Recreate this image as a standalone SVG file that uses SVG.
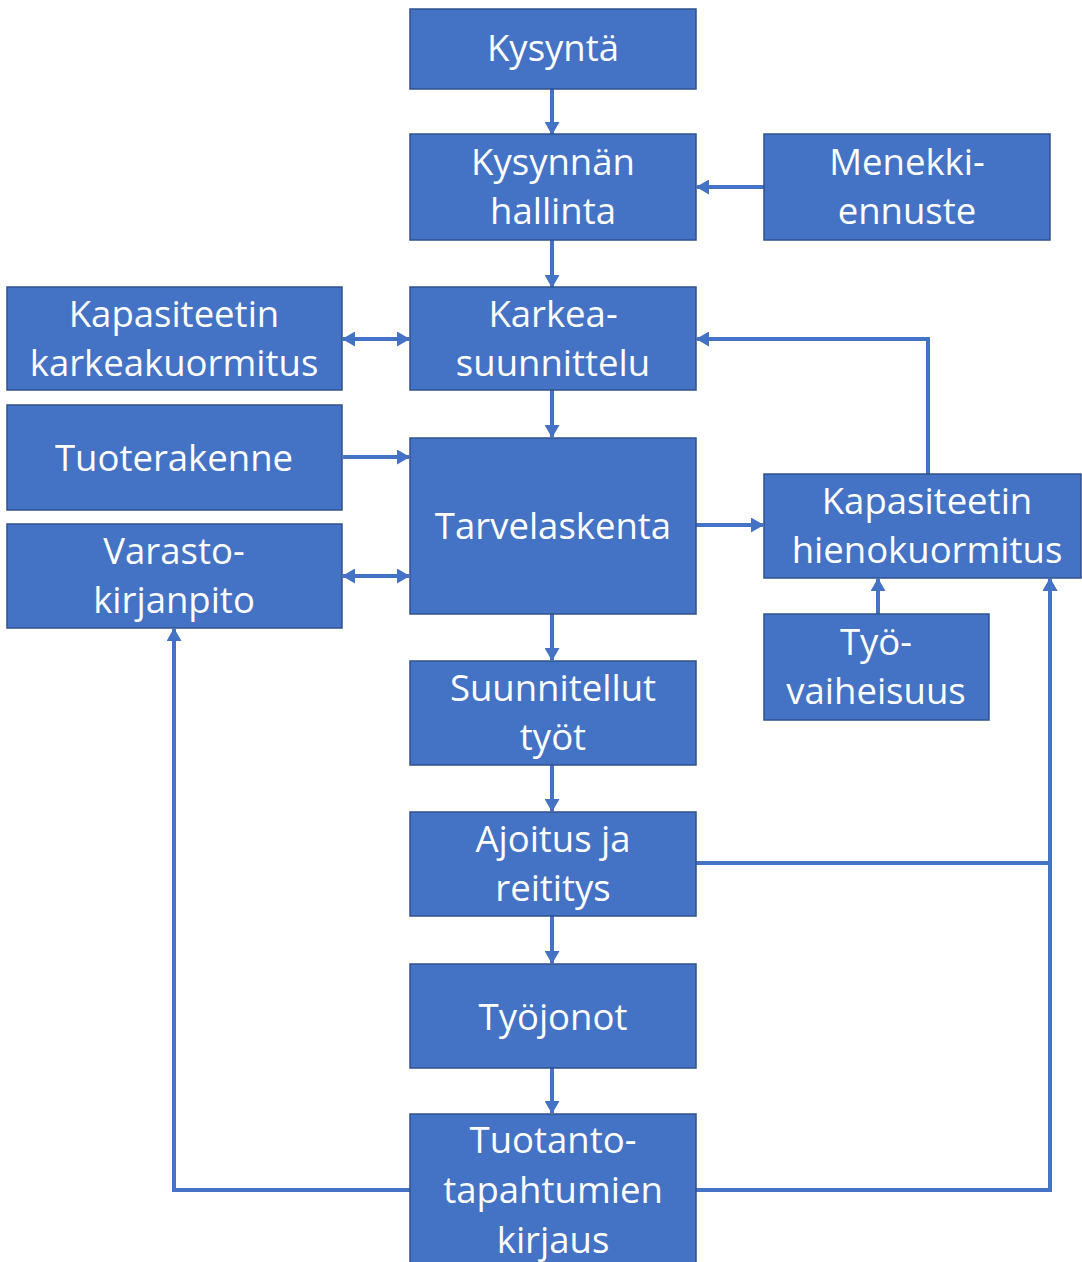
<svg xmlns="http://www.w3.org/2000/svg" width="1082" height="1262" viewBox="0 0 1082 1262">
<defs>
<style>
.box{fill:#4472C4;stroke:#2F528F;stroke-width:1.5}
.t{font-family:"Open Sans","Liberation Sans",sans-serif;font-size:36.5px;fill:#fff;text-anchor:middle}
.c{fill:none;stroke:#4472C4;stroke-width:4;marker-end:url(#ah)}
.d{marker-start:url(#ah)}
</style>
<marker id="ah" markerUnits="userSpaceOnUse" markerWidth="13" markerHeight="15" refX="12" refY="7.5" orient="auto-start-reverse" viewBox="0 0 13 15">
<path d="M0,0 L13,7.5 L0,15 z" fill="#4472C4"/>
</marker>
</defs>
<rect width="1082" height="1262" fill="#fff"/>
<g id="connectors">
<path class="c" d="M552,89 V134"/>
<path class="c" d="M764,187 H697"/>
<path class="c" d="M552,240 V287"/>
<path class="c d" d="M343,339 H409"/>
<path class="c" d="M928,474 V339 H697"/>
<path class="c" d="M552,390 V437"/>
<path class="c" d="M343,457 H409"/>
<path class="c d" d="M343,576 H409"/>
<path class="c" d="M696,525 H763"/>
<path class="c" d="M878,614 V579"/>
<path class="c" d="M552,614 V660"/>
<path class="c" d="M552,765 V811"/>
<path class="c" d="M696,863 H1050 V579"/>
<path class="c" d="M552,916 V963"/>
<path class="c" d="M552,1068 V1113"/>
<path class="c" d="M410,1190 H174 V629"/>
<path class="c" d="M696,1190 H1050 V579"/>
</g>
<g id="kysynta"><rect class="box" x="410" y="9" width="286" height="80"/><text class="t" x="553" y="61">Kysyntä</text></g>
<g id="kysynnan-hallinta"><rect class="box" x="410" y="134" width="286" height="106"/><text class="t" x="553" y="175">Kysynnän</text><text class="t" x="553" y="224">hallinta</text></g>
<g id="menekkiennuste"><rect class="box" x="764" y="134" width="286" height="106"/><text class="t" x="907" y="175">Menekki-</text><text class="t" x="907" y="224">ennuste</text></g>
<g id="karkeasuunnittelu"><rect class="box" x="410" y="287" width="286" height="103"/><text class="t" x="553" y="327">Karkea-</text><text class="t" x="553" y="376">suunnittelu</text></g>
<g id="kapasiteetin-karkeakuormitus"><rect class="box" x="7" y="287" width="335" height="103"/><text class="t" x="174" y="327">Kapasiteetin</text><text class="t" x="174" y="376">karkeakuormitus</text></g>
<g id="tuoterakenne"><rect class="box" x="7" y="405" width="335" height="105"/><text class="t" x="174" y="471">Tuoterakenne</text></g>
<g id="varastokirjanpito"><rect class="box" x="7" y="524" width="335" height="104"/><text class="t" x="174" y="564">Varasto-</text><text class="t" x="174" y="613">kirjanpito</text></g>
<g id="tarvelaskenta"><rect class="box" x="410" y="438" width="286" height="176"/><text class="t" x="553" y="539">Tarvelaskenta</text></g>
<g id="kapasiteetin-hienokuormitus"><rect class="box" x="764" y="474" width="317" height="104"/><text class="t" x="927" y="514">Kapasiteetin</text><text class="t" x="927" y="563">hienokuormitus</text></g>
<g id="tyovaiheisuus"><rect class="box" x="764" y="614" width="225" height="106"/><text class="t" x="876" y="655">Työ-</text><text class="t" x="876" y="704">vaiheisuus</text></g>
<g id="suunnitellut-tyot"><rect class="box" x="410" y="661" width="286" height="104"/><text class="t" x="553" y="701">Suunnitellut</text><text class="t" x="553" y="750">työt</text></g>
<g id="ajoitus"><rect class="box" x="410" y="812" width="286" height="104"/><text class="t" x="553" y="852">Ajoitus ja</text><text class="t" x="553" y="901">reititys</text></g>
<g id="tyojonot"><rect class="box" x="410" y="964" width="286" height="104"/><text class="t" x="553" y="1030">Työjonot</text></g>
<g id="tuotantotapahtumien-kirjaus"><rect class="box" x="410" y="1114" width="286" height="160"/><text class="t" x="553" y="1153">Tuotanto-</text><text class="t" x="553" y="1203">tapahtumien</text><text class="t" x="553" y="1253">kirjaus</text></g>
</svg>
